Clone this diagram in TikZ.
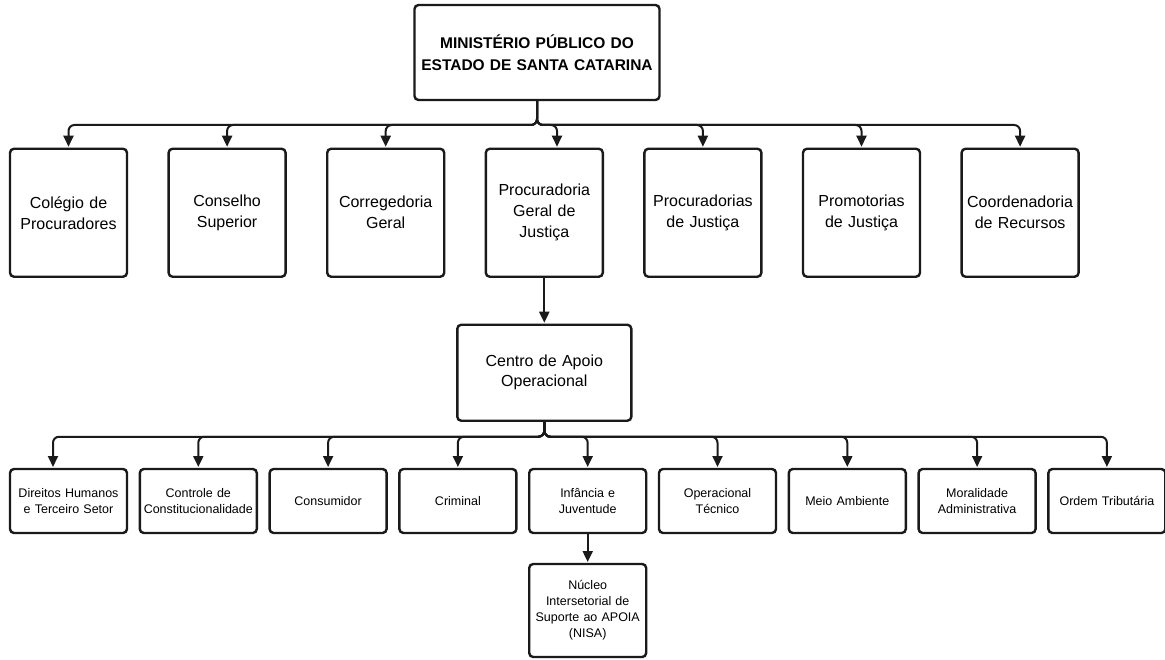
\documentclass[tikz,border=0pt]{standalone}
\usepackage{fontspec}
\setmainfont{Liberation Sans}
\usetikzlibrary{arrows.meta, positioning}
\definecolor{orgline}{RGB}{26,26,26}

\begin{document}
\begin{tikzpicture}[
  x=1pt, y=1pt,
  unit/.style={
    rectangle, rounded corners=4pt,
    draw=orgline, line width=2.4pt, fill=white,
    minimum width=117pt, text width=112pt,
    align=center, inner sep=1pt, outer sep=0pt
  },
  headunit/.style={unit, minimum width=245pt, text width=236pt,
    minimum height=95pt, font=\fontsize{15.5}{22}\selectfont\bfseries},
  rowunit/.style={unit, minimum height=128pt, font=\fontsize{16}{21}\selectfont},
  supportunit/.style={unit, minimum width=174pt, text width=168pt,
    minimum height=96pt, font=\fontsize{16}{20}\selectfont},
  subunit/.style={unit, minimum height=64pt, font=\fontsize{12.5}{16}\selectfont},
  link/.style={draw=orgline, line width=2pt, rounded corners=6pt,
    -{Triangle[length=11pt,width=10pt]}, shorten >=2pt}
]
  \useasboundingbox (0,0) rectangle (1165,-660);

  % Top of the chart
  \node[headunit] (mpsc) at (537,-52.5) {MINISTÉRIO PÚBLICO DO\\ESTADO DE SANTA CATARINA};

  % First level, left to right
  \node[rowunit] (colegio) at (68.5,-212.75) {Colégio de\\Procuradores};
  \node[rowunit, right=41.6pt of colegio]       (conselho)      {Conselho\\Superior};
  \node[rowunit, right=41.6pt of conselho]      (corregedoria)  {Corregedoria\\Geral};
  \node[rowunit, right=41.6pt of corregedoria]  (pgj)           {Procuradoria\\Geral de\\Justiça};
  \node[rowunit, right=41.6pt of pgj]           (procuradorias) {Procuradorias\\de Justiça};
  \node[rowunit, right=41.6pt of procuradorias] (promotorias)   {Promotorias\\de Justiça};
  \node[rowunit, right=41.6pt of promotorias]   (coordenadoria) {Coordenadoria\\de Recursos};

  % Support centre under the Procuradoria Geral
  \node[supportunit, below=48pt of pgj] (centro) {Centro de Apoio\\Operacional};

  % Second level, left to right
  \node[subunit] (direitos) at (68.5,-501) {Direitos Humanos\\e Terceiro Setor};
  \node[subunit, right=12.8pt of direitos]     (controle)     {Controle de\\Constitucionalidade};
  \node[subunit, right=12.8pt of controle]     (consumidor)   {Consumidor};
  \node[subunit, right=12.8pt of consumidor]   (criminal)     {Criminal};
  \node[subunit, right=12.8pt of criminal]     (infancia)     {Infância e\\Juventude};
  \node[subunit, right=12.8pt of infancia]     (operacional)  {Operacional\\Técnico};
  \node[subunit, right=12.8pt of operacional]  (ambiente)     {Meio Ambiente};
  \node[subunit, right=12.8pt of ambiente]     (moralidade)   {Moralidade\\Administrativa};
  \node[subunit, right=12.8pt of moralidade]   (tributaria)   {Ordem Tributária};

  \node[subunit, minimum height=93pt, below=31pt of infancia] (nisa)
        {Núcleo\\Intersetorial de\\Suporte ao APOIA\\(NISA)};

  % Connectors
  \foreach \unit in {colegio, conselho, corregedoria, procuradorias, promotorias, coordenadoria}
    \draw[link] (mpsc.south) -- ++(0,-25) -| (\unit.north);
  \draw[link] (mpsc.south) -- ++(0,-25) -| ([xshift=12.7pt]pgj.north);
  \draw[link] (pgj.south) -- (centro.north);

  \foreach \unit in {controle, consumidor, criminal, infancia, operacional, ambiente, moralidade, tributaria}
    \draw[link] (centro.south) -- ++(0,-16) -| (\unit.north);
  \draw[link] (centro.south) -- ++(0,-16) -| ([xshift=-15.5pt]direitos.north);
  \draw[link] (infancia.south) -- (nisa.north);
\end{tikzpicture}
\end{document}
